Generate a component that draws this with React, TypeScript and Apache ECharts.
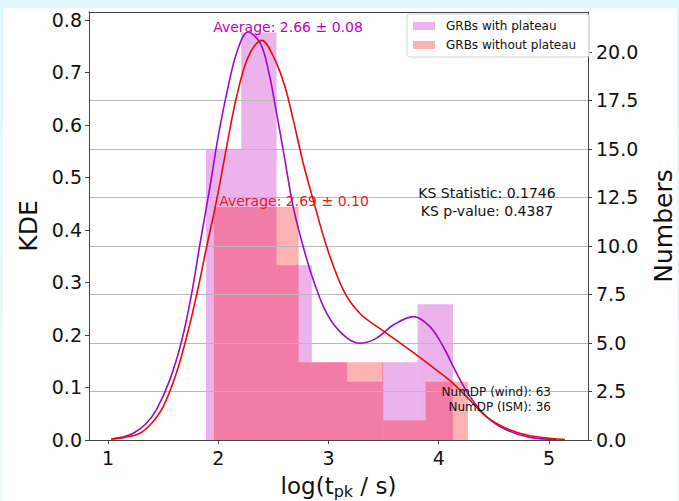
import React, { useEffect, useRef } from "react";
import * as echarts from "echarts";

// ---- data ----
const xTicks = [1, 2, 3, 4, 5];
const kdeTicks = [0, 0.1, 0.2, 0.3, 0.4, 0.5, 0.6, 0.7, 0.8];
const countTicks = [0, 2.5, 5, 7.5, 10, 12.5, 15, 17.5, 20];

const plateauEdges = [1.889, 2.209, 2.529, 2.849, 3.169, 3.489, 3.809, 4.129];
const plateauCounts = [15, 21, 9, 4, 3, 4, 7];
const noPlateauEdges = [1.961, 2.345, 2.729, 3.113, 3.497, 3.881, 4.265];
const noPlateauCounts = [12, 12, 4, 4, 1, 3];

const plateauKdeX = [1.03, 1.12, 1.23, 1.34, 1.44, 1.56, 1.67, 1.76, 1.83, 1.925, 2.0, 2.077, 2.167, 2.27, 2.38, 2.454, 2.53, 2.605, 2.68, 2.771, 2.862, 2.984, 3.134, 3.286, 3.437, 3.588, 3.77, 3.92, 4.04, 4.163, 4.283, 4.435, 4.616, 4.828, 5.07];
const plateauKdeY = [0.002, 0.005, 0.013, 0.03, 0.058, 0.114, 0.19, 0.28, 0.368, 0.482, 0.578, 0.66, 0.737, 0.777, 0.756, 0.705, 0.622, 0.533, 0.444, 0.368, 0.305, 0.241, 0.2, 0.184, 0.194, 0.219, 0.235, 0.216, 0.178, 0.127, 0.083, 0.044, 0.019, 0.005, 0.001];

const noPlateauKdeX = [1.03, 1.15, 1.29, 1.4, 1.5, 1.62, 1.73, 1.82, 1.895, 1.986, 2.077, 2.167, 2.273, 2.394, 2.515, 2.605, 2.68, 2.771, 2.862, 2.984, 3.134, 3.286, 3.51, 3.74, 3.98, 4.13, 4.283, 4.435, 4.616, 4.828, 5.145];
const noPlateauKdeY = [0.002, 0.005, 0.013, 0.033, 0.063, 0.127, 0.21, 0.292, 0.368, 0.457, 0.559, 0.654, 0.73, 0.761, 0.724, 0.673, 0.61, 0.527, 0.457, 0.368, 0.286, 0.241, 0.206, 0.171, 0.133, 0.108, 0.076, 0.044, 0.022, 0.008, 0.001];

const labelPlateau = "GRBs with plateau";
const labelNoPlateau = "GRBs without plateau";
const avgPlateau = "Average: 2.66 ± 0.08";
const avgNoPlateau = "Average: 2.69 ± 0.10";
const ksLines = ["KS Statistic: 0.1746", "KS p-value: 0.4387"];
const numLines = ["NumDP (wind): 63", "NumDP (ISM): 36"];

const FONT = "DejaVu Sans";

function histData(edges: number[], counts: number[]) {
  return counts.map((c, i) => [edges[i], edges[i + 1], c]);
}

function histRender(params: any, api: any) {
  const x0 = api.value(0);
  const x1 = api.value(1);
  const c = api.value(2);
  const p0 = api.coord([x0, c]);
  const p1 = api.coord([x1, 0]);
  return {
    type: "rect",
    shape: { x: p0[0], y: p0[1], width: p1[0] - p0[0], height: p1[1] - p0[1] },
    style: { fill: api.visual("color") },
  };
}

export default function App() {
  const ref = useRef<HTMLDivElement>(null);
  useEffect(() => {
    document.body.style.margin = "0";
    const chart = echarts.init(ref.current!, null, { renderer: "svg" });
    const purpleFill = "rgba(191,0,191,0.3)";
    const redFill = "rgba(255,0,0,0.3)";
    chart.setOption({
      animation: false,
      textStyle: { fontFamily: FONT },
      grid: { left: 86, right: 89, top: 4, bottom: 61, outerBoundsMode: "none", containLabel: false },
      legend: {
        data: [labelPlateau, labelNoPlateau],
        orient: "vertical",
        left: 404,
        top: 6,
        icon: "rect",
        itemWidth: 22,
        itemHeight: 8,
        itemGap: 5,
        padding: [5, 13, 5, 6],
        borderColor: "#d4d4d4",
        borderWidth: 1,
        borderRadius: 3,
        backgroundColor: "rgba(255,255,255,0.85)",
        textStyle: { fontFamily: FONT, fontSize: 12, color: "#111", padding: [0, 0, 0, 6], lineHeight: 14 },
        selectedMode: false,
      },
      xAxis: [
        {
          type: "value",
          min: 0.828,
          max: 5.354,
          z: 3,
          name: "log(t{sub|pk} / s)",
          nameLocation: "middle",
          nameGap: 30,
          nameTextStyle: {
            fontFamily: FONT,
            fontSize: 23,
            color: "#111",
            lineHeight: 28,
            rich: {
              sub: { fontFamily: FONT, fontSize: 16, color: "#111", verticalAlign: "bottom", lineHeight: 16, padding: [10, 0, 0, 0] },
            },
          },
          axisLine: { show: true, lineStyle: { color: "#444", width: 1 } },
          axisTick: { show: true, length: 4, lineStyle: { color: "#444" }, customValues: xTicks },
          axisLabel: { fontFamily: FONT, fontSize: 19, color: "#111", margin: 8, customValues: xTicks },
          splitLine: { show: false },
        },
        {
          type: "value",
          position: "top",
          min: 0.828,
          max: 5.354,
          z: 3,
          axisLine: { show: true, onZero: false, lineStyle: { color: "#444", width: 1 } },
          axisTick: { show: false },
          axisLabel: { show: false },
          splitLine: { show: false },
        },
      ],
      yAxis: [
        {
          type: "value",
          min: 0,
          max: 0.815,
          interval: 0.1,
          z: 3,
          position: "left",
          name: "KDE",
          nameLocation: "middle",
          nameRotate: 90,
          nameGap: 47,
          nameTextStyle: { fontFamily: FONT, fontSize: 25, color: "#111" },
          axisLine: { show: true, lineStyle: { color: "#444", width: 1 } },
          axisTick: { show: true, length: 4, lineStyle: { color: "#444" }, customValues: kdeTicks },
          axisLabel: {
            fontFamily: FONT,
            fontSize: 19,
            color: "#111",
            margin: 7,
            customValues: kdeTicks,
            formatter: (v: number) => v.toFixed(1),
          },
          splitLine: { show: false },
        },
        {
          type: "value",
          min: 0,
          max: 22.05,
          interval: 2.5,
          z: 3,
          position: "right",
          name: "Numbers",
          nameLocation: "middle",
          nameRotate: 90,
          nameGap: 63,
          nameTextStyle: { fontFamily: FONT, fontSize: 25, color: "#111" },
          axisLine: { show: true, lineStyle: { color: "#444", width: 1 } },
          axisTick: { show: true, length: 4, lineStyle: { color: "#444" }, customValues: countTicks },
          axisLabel: {
            fontFamily: FONT,
            fontSize: 19,
            color: "#111",
            margin: 8,
            customValues: countTicks,
            formatter: (v: number) => v.toFixed(1),
          },
          splitLine: { show: true, showMinLine: false, showMaxLine: false, lineStyle: { color: "#b8b8b8", width: 1 } },
        },
      ],
      series: [
        {
          name: labelPlateau,
          type: "custom",
          xAxisIndex: 0,
          yAxisIndex: 1,
          z: 1,
          itemStyle: { color: purpleFill },
          renderItem: histRender,
          encode: { x: [0, 1], y: 2 },
          data: histData(plateauEdges, plateauCounts),
        },
        {
          name: labelNoPlateau,
          type: "custom",
          xAxisIndex: 0,
          yAxisIndex: 1,
          z: 1,
          itemStyle: { color: redFill },
          renderItem: histRender,
          encode: { x: [0, 1], y: 2 },
          data: histData(noPlateauEdges, noPlateauCounts),
        },
        {
          name: "KDE plateau",
          type: "line",
          xAxisIndex: 0,
          yAxisIndex: 0,
          z: 5,
          smooth: 0.35,
          showSymbol: false,
          lineStyle: { color: "#9c0cc8", width: 1.6 },
          itemStyle: { color: "#9c0cc8" },
          data: plateauKdeX.map((x, i) => [x, plateauKdeY[i]]),
        },
        {
          name: "KDE no plateau",
          type: "line",
          xAxisIndex: 0,
          yAxisIndex: 0,
          z: 5,
          smooth: 0.35,
          showSymbol: false,
          lineStyle: { color: "#ee0a0a", width: 1.6 },
          itemStyle: { color: "#ee0a0a" },
          data: noPlateauKdeX.map((x, i) => [x, noPlateauKdeY[i]]),
        },
      ],
      graphic: [
        {
          type: "text",
          x: 285,
          y: 19,
          z: 10,
          style: { text: avgPlateau, fill: "#bf00bf", font: `14px '${FONT}'`, align: "center", verticalAlign: "middle" },
        },
        {
          type: "text",
          x: 291,
          y: 193,
          z: 10,
          style: { text: avgNoPlateau, fill: "#ee1a1a", font: `14px '${FONT}'`, align: "center", verticalAlign: "middle" },
        },
        {
          type: "text",
          x: 484,
          y: 194,
          z: 10,
          style: { text: ksLines.join("\n"), fill: "#111", font: `14px '${FONT}'`, align: "center", verticalAlign: "middle", lineHeight: 18 },
        },
        {
          type: "text",
          x: 548,
          y: 391,
          z: 10,
          style: { text: numLines.join("\n"), fill: "#111", font: `12px '${FONT}'`, align: "right", verticalAlign: "middle", lineHeight: 15 },
        },
      ],
    });
    return () => chart.dispose();
  }, []);
  return (
    <div style={{ position: "relative", width: 679, height: 501, background: "linear-gradient(#e0f7fd, #f2fcf6)" }}>
      <div
        ref={ref}
        style={{ position: "absolute", left: 3, top: 8, width: 674, height: 493, background: "#fff" }}
      />
    </div>
  );
}
